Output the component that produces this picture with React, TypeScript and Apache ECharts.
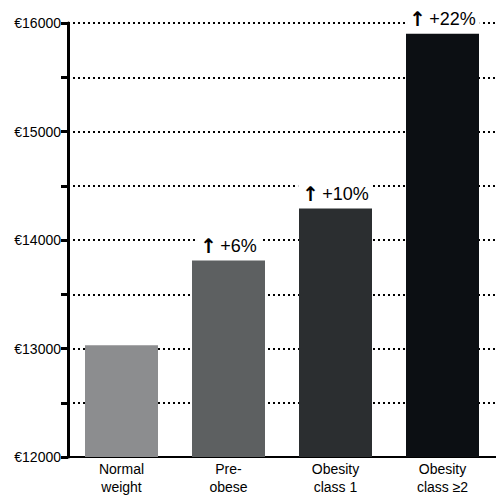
import React, { useEffect, useRef } from "react";
import * as echarts from "echarts";

const categories = ["Normal\nweight", "Pre-\nobese", "Obesity\nclass 1", "Obesity\nclass ≥2"];
const costs = [13030, 13810, 14290, 15900];
const increases = ["", "+6%", "+10%", "+22%"];
const barColors = ["#8c8d8f", "#5d6061", "#2b2e30", "#0c0f13"];

const FONT = "Liberation Sans";

export default function App() {
  const ref = useRef<HTMLDivElement>(null);
  useEffect(() => {
    const chart = echarts.init(ref.current!, null, { renderer: "svg" });
    chart.setOption({
      animation: false,
      textStyle: { fontFamily: FONT },
      grid: { left: 68, top: 23, width: 436, height: 436 },
      xAxis: {
        type: "category",
        data: categories,
        axisLine: { lineStyle: { color: "#000", width: 2 } },
        axisTick: { show: false },
        axisLabel: { color: "#000", fontSize: 14, lineHeight: 18, margin: 3, fontFamily: FONT },
      },
      yAxis: {
        type: "value",
        min: 12000,
        max: 16000,
        interval: 500,
        axisLine: { show: true, lineStyle: { color: "#000", width: 3 } },
        axisTick: { show: true, length: 7, lineStyle: { color: "#000", width: 3 } },
        axisLabel: {
          color: "#000",
          fontSize: 14,
          margin: 7,
          fontFamily: FONT,
          formatter: (v: number) => (v % 1000 === 0 ? "€" + v : ""),
        },
        splitLine: {
          show: true,
          lineStyle: { color: "#000", width: 2, type: [2, 3] },
        },
      },
      series: [
        {
          type: "bar",
          barWidth: 73,
          data: costs.map((v, i) => ({
            value: v,
            itemStyle: { color: barColors[i] },
            label: {
              show: increases[i] !== "",
              position: "top",
              distance: 5,
              formatter: () => "{a|↑} {b|" + increases[i] + "}",
              backgroundColor: "#fff",
              padding: [0, 4],
              rich: {
                a: { fontSize: 20, fontWeight: "bold", color: "#000", fontFamily: "DejaVu Sans" },
                b: { fontSize: 18, color: "#000", fontFamily: FONT },
              },
            },
          })),
        },
      ],
    });
    return () => chart.dispose();
  }, []);
  return (
    <div
      ref={ref}
      style={{ position: "absolute", left: 0, top: 0, width: 496, height: 496, background: "#fff" }}
    />
  );
}
